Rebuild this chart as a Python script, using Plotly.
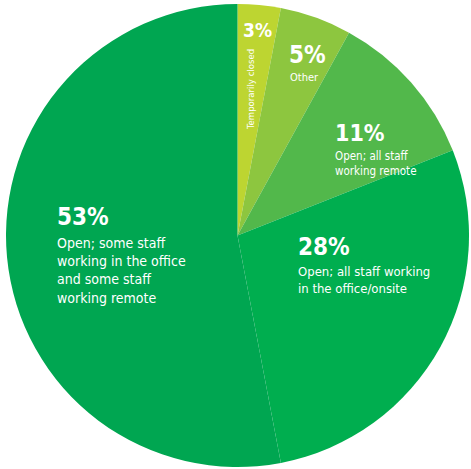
import plotly.graph_objects as go

# Share of organisations by operating status
categories = [
    "Temporarily closed",
    "Other",
    "Open; all staff working remote",
    "Open; all staff working in the office/onsite",
    "Open; some staff working in the office and some staff working remote",
]
shares = [3, 5, 11, 28, 53]
colors = ["#BDD531", "#8DC63F", "#52B84B", "#00AE4F", "#00A651"]

# wrapped descriptions shown under each percentage
descriptions = [
    "Temporarily closed",
    "Other",
    "Open; all staff<br>working remote",
    "Open; all staff working<br>in the office/onsite",
    "Open; some staff<br>working in the office<br>and some staff<br>working remote",
]

W, H = 471, 469
FONT = "DejaVu Sans Condensed, Liberation Sans Narrow, Liberation Sans, Arial"

fig = go.Figure(
    go.Pie(
        labels=categories,
        values=shares,
        sort=False,
        direction="clockwise",
        rotation=0,
        marker=dict(colors=colors, line=dict(width=0)),
        textinfo="none",
        hoverinfo="label+percent",
        showlegend=False,
        domain=dict(x=[6 / W, 469 / W], y=[2 / H, 465 / H]),
    )
)


def px(x, y):
    return x / W, 1 - y / H


def add_text(text, x, y, size, bold=False, angle=0, xanchor="left"):
    ax, ay = px(x, y)
    fig.add_annotation(
        x=ax, y=ay, xref="paper", yref="paper",
        text=f"<b>{text}</b>" if bold else text,
        showarrow=False, xanchor=xanchor, yanchor="middle",
        align="left", textangle=angle, borderpad=0,
        font=dict(family=FONT, size=size, color="white"),
    )


# 3 %
add_text(f"{shares[0]}%", 242, 30, 19, bold=True)
add_text(descriptions[0], 251, 90, 9.5, angle=-90, xanchor="center")

# 5 %
add_text(f"{shares[1]}%", 288, 55, 24, bold=True)
add_text(descriptions[1], 289, 77, 11)

# 11 %
add_text(f"{shares[2]}%", 334, 133, 23, bold=True)
add_text(descriptions[2], 334, 163, 11.5)

# 28 %
add_text(f"{shares[3]}%", 297, 247, 24, bold=True)
add_text(descriptions[3], 297, 280, 13)

# 53 %
add_text(f"{shares[4]}%", 56, 217, 24, bold=True)
add_text(descriptions[4], 56, 270, 14)

fig.update_layout(
    width=W, height=H,
    margin=dict(l=0, r=0, t=0, b=0),
    paper_bgcolor="white",
    plot_bgcolor="white",
)

fig.write_html("out.html")
